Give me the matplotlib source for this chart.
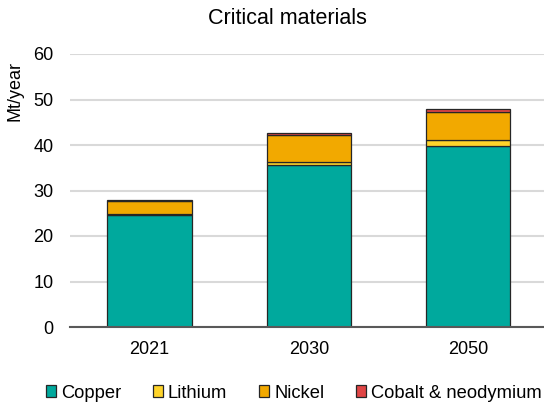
import matplotlib.pyplot as plt
import numpy as np

plt.rcParams["font.family"] = ["Liberation Sans", "DejaVu Sans"]

years = ["2021", "2030", "2050"]
copper = [24.6, 35.7, 39.8]
lithium = [0.2, 0.6, 1.3]
nickel = [2.9, 5.8, 6.2]
cobalt_neodymium = [0.2, 0.6, 0.7]

series = [
    ("Copper", copper, "#00A99D"),
    ("Lithium", lithium, "#FFD42A"),
    ("Nickel", nickel, "#F2A900"),
    ("Cobalt & neodymium", cobalt_neodymium, "#E04545"),
]

fig = plt.figure(figsize=(5.44, 4.03), dpi=100)
ax = fig.add_axes([70 / 544, 76 / 403, 477.6 / 544, 273 / 403])

x = np.arange(len(years))
bottom = np.zeros(len(years))
handles = []
for name, vals, color in series:
    bars = ax.bar(x, vals, width=0.53, bottom=bottom, color=color,
                  edgecolor="#262626", linewidth=0.9, label=name, zorder=3)
    bottom += np.array(vals)
    handles.append(bars)

ax.set_xlim(-0.5, 2.5)
ax.set_ylim(0, 60)
ax.set_yticks(range(0, 61, 10))
ax.set_xticks(x)
ax.set_xticklabels(years)
ax.tick_params(axis="both", length=0, labelsize=13, colors="#000000")
ax.tick_params(axis="y", pad=12)
ax.tick_params(axis="x", pad=10)
ax.grid(axis="y", color="#D9D9D9", linewidth=1.5, zorder=0)
for side in ["top", "right", "left"]:
    ax.spines[side].set_visible(False)
ax.spines["bottom"].set_color("#595959")
ax.spines["bottom"].set_linewidth(1.5)
ax.spines["bottom"].set_zorder(4)
ax.set_ylabel("Mt/year", fontsize=13)
ax.yaxis.set_label_coords(-46 / 477.6, 0.865)

fig.text(287 / 544, 1 - 19 / 403, "Critical materials", fontsize=15.5,
         ha="center", va="center")

fig.legend(handles=handles, loc="center", bbox_to_anchor=(294 / 544, 1 - 393 / 403),
           ncol=4, frameon=False, fontsize=13.2, handlelength=0.55, handleheight=0.55,
           handletextpad=0.25, columnspacing=1.75, borderaxespad=0, borderpad=0)

fig.savefig("out.png", dpi=100)
